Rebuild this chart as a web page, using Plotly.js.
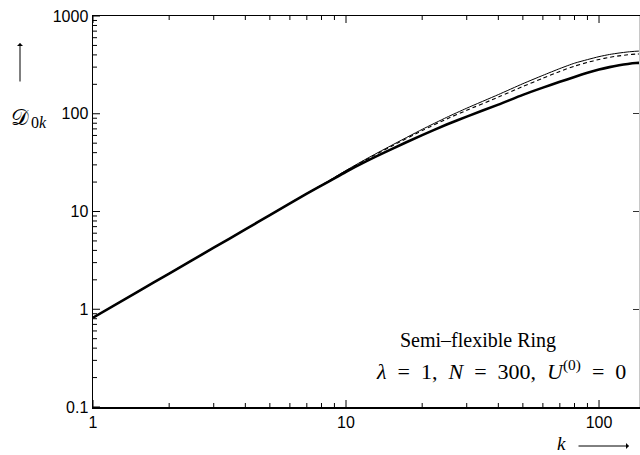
<!DOCTYPE html>
<html>
<head>
<meta charset="utf-8">
<script src="https://cdn.plot.ly/plotly-3.0.1.min.js"></script>
<style>html,body{margin:0;padding:0;background:#fff;}#chart{width:640px;height:455px;}</style>
</head>
<body>
<div id="chart"></div>
<script>
// k values (mode index)
const kValues = [1, 1.5, 2, 3, 4, 5, 7, 8.5, 10, 12, 15, 20, 25, 30, 40, 50, 60, 70, 80, 90, 100, 110, 120, 130, 140, 150];
// thin solid (upper) curve
const seriesThin = [0.82, 1.51, 2.32, 4.26, 6.56, 9.17, 15.3, 20.4, 26.3, 34.4, 46.9, 69.2, 91.9, 114, 157, 203, 247, 290, 329, 358, 384, 404, 418, 429, 436, 439];
// dashed (middle) curve
const seriesDashed = [0.82, 1.51, 2.32, 4.26, 6.56, 9.17, 15.3, 20.3, 26.0, 33.9, 46.0, 67.2, 88.4, 108.5, 148, 190, 231, 271, 307, 335, 359, 378, 391, 401, 408, 410];
// thick solid (lower) curve
const seriesThick = [0.82, 1.51, 2.32, 4.26, 6.56, 9.17, 15.2, 20.1, 25.5, 32.6, 43, 60.5, 77.5, 93.5, 124, 156, 185, 212, 238, 262, 283, 300, 313, 323, 330, 333];

const yTickVals = [0.1, 1, 10, 100, 1000];
const yTickText = ["0.1", "1", "10", "100", "1000"];
const yMinorVals = [0.2, 0.3, 0.4, 0.5, 0.6, 0.7, 0.8, 0.9, 2, 3, 4, 5, 6, 7, 8, 9, 20, 30, 40, 50, 60, 70, 80, 90, 200, 300, 400, 500, 600, 700, 800, 900];
const xTickVals = [1, 10, 100];
const xTickText = ["1", "10", "100"];
const xMinorVals = [2, 3, 4, 5, 6, 7, 8, 9, 20, 30, 40, 50, 60, 70, 80, 90];

const tickFont = {family: "Liberation Sans, Arial, sans-serif", size: 16, color: "#000"};
const serif = "Liberation Serif, DejaVu Serif, serif";
const XR = [0, 2.158], YR = [-1, 3];
const PW = 546, PH = 391;
const hidden = {color: "rgba(0,0,0,0)", width: 0};

const traces = [
  {x: kValues, y: seriesThin, mode: "lines", line: {color: "#000", width: 1, shape: "spline", smoothing: 0.6}, hoverinfo: "skip"},
  {x: kValues, y: seriesDashed, mode: "lines", line: {color: "#000", width: 1.1, dash: "4px,3px", shape: "spline", smoothing: 0.6}, hoverinfo: "skip"},
  {x: kValues, y: seriesThick, mode: "lines", line: {color: "#000", width: 2.6, shape: "spline", smoothing: 0.6}, hoverinfo: "skip"},
  {x: kValues, y: seriesThick, mode: "lines", xaxis: "x", yaxis: "y2", line: hidden, hoverinfo: "skip"}
];

// inside tick marks on the frame, placed through the axes' own log scale
const shapes = [];
const tl = {color: "#000", width: 1};
function xTick(v, len) {
  shapes.push({type: "line", xref: "x", yref: "paper", x0: v, x1: v, y0: 0, y1: len / PH, line: tl, layer: "above"});
  shapes.push({type: "line", xref: "x", yref: "paper", x0: v, x1: v, y0: 1, y1: 1 - len / PH, line: tl, layer: "above"});
}
function yTick(v, len) {
  shapes.push({type: "line", xref: "paper", yref: "y", x0: 0, x1: len / PW, y0: v, y1: v, line: tl, layer: "above"});
}
xTickVals.forEach(v => xTick(v, 7));
xMinorVals.forEach(v => xTick(v, 4));
yTickVals.forEach(v => yTick(v, 7));
yMinorVals.forEach(v => yTick(v, 4));

const layout = {
  width: 640, height: 455,
  margin: {l: 93, r: 1, t: 16, b: 48, autoexpand: false},
  paper_bgcolor: "#fff", plot_bgcolor: "#fff",
  showlegend: false,
  xaxis: {
    type: "log", range: XR, autorange: false,
    tickmode: "array", tickvals: xTickVals, ticktext: xTickText, ticks: "",
    showline: true, linecolor: "#000", linewidth: 1.5, mirror: true,
    showgrid: false, zeroline: false, tickfont: tickFont
  },
  yaxis: {
    type: "log", range: YR, autorange: false,
    tickmode: "array", tickvals: yTickVals, ticktext: yTickText, ticks: "",
    showline: true, linecolor: "#000", linewidth: 1.5, mirror: false,
    showgrid: false, zeroline: false, tickfont: tickFont
  },
  yaxis2: {
    type: "log", range: YR, autorange: false, overlaying: "y", side: "right",
    tickmode: "array", tickvals: yTickVals, showticklabels: false,
    ticks: "inside", ticklen: 6, tickwidth: 1, tickcolor: "#333",
    showline: true, linecolor: "#c8c8c8", linewidth: 1,
    showgrid: false, zeroline: false
  },
  shapes: shapes,
  annotations: [
    {xref: "paper", yref: "paper", x: 0.705, y: (407 - 340) / 391, xanchor: "center", yanchor: "middle",
     text: "Semi\u2013flexible Ring", showarrow: false, font: {family: serif, size: 20, color: "#000"}},
    {xref: "paper", yref: "paper", x: (628 - 93) / 546, y: (407 - 370) / 391, xanchor: "right", yanchor: "middle",
     text: "<i>\u03bb</i>\u2002=\u20021,\u2002<i>N</i>\u2002=\u2002300,\u2002<i>U</i><sup>(0)</sup>\u2002=\u20020", showarrow: false,
     font: {family: serif, size: 22, color: "#000"}},
    {xref: "paper", yref: "paper", x: (9 - 93) / 546, y: (407 - 117) / 391, xanchor: "left", yanchor: "middle",
     text: "\ud835\udc9f", showarrow: false, font: {family: serif, size: 22, color: "#000"}},
    {xref: "paper", yref: "paper", x: (29 - 93) / 546, y: (407 - 122) / 391, xanchor: "left", yanchor: "middle",
     text: "0<i>k</i>", showarrow: false, font: {family: serif, size: 16, color: "#000"}},
    {xref: "paper", yref: "paper", x: (20 - 93) / 546, y: (407 - 43) / 391, text: "", showarrow: true,
     ax: 0, ay: 40, arrowhead: 1, arrowsize: 1, arrowwidth: 1, arrowcolor: "#000"},
    {xref: "paper", yref: "paper", x: (561 - 93) / 546, y: (407 - 443) / 391, xanchor: "center", yanchor: "middle",
     text: "<i>k</i>", showarrow: false, font: {family: serif, size: 19, color: "#000"}},
    {xref: "paper", yref: "paper", x: (629 - 93) / 546, y: (407 - 446) / 391, text: "", showarrow: true,
     ax: -52, ay: 0, arrowhead: 1, arrowsize: 1, arrowwidth: 1, arrowcolor: "#000"}
  ]
};

Plotly.newPlot("chart", traces, layout, {staticPlot: true, displayModeBar: false});
</script>
</body>
</html>
